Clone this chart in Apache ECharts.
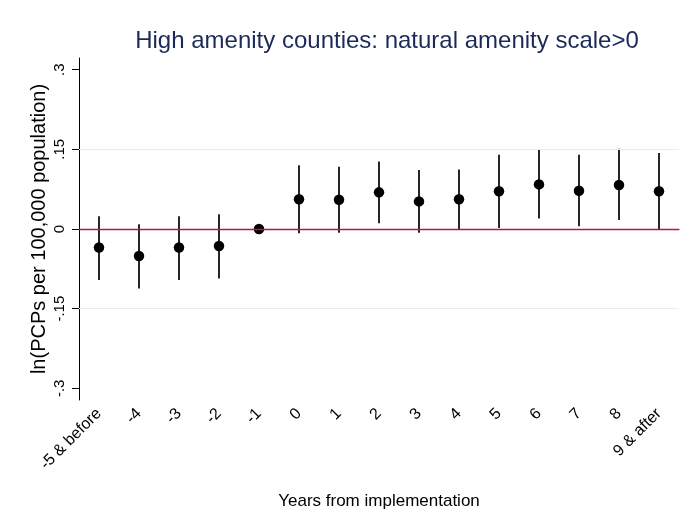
<!DOCTYPE html>
<html>
<head>
<meta charset="utf-8">
<script src="https://cdn.jsdelivr.net/npm/echarts@6/dist/echarts.min.js"></script>
<style>
html, body { margin: 0; padding: 0; background: #fff; }
#chart { width: 680px; height: 515px; }
</style>
</head>
<body>
<div id="chart"></div>
<script>
// event-study coefficients
let years = ['-5 & before', '-4', '-3', '-2', '-1', '0', '1', '2', '3', '4', '5', '6', '7', '8', '9 & after'];
let coef  = [-0.035, -0.051, -0.035, -0.032, 0, 0.056, 0.055, 0.069, 0.052, 0.056, 0.071, 0.084, 0.072, 0.083, 0.071];
let ciLow = [-0.096, -0.112, -0.096, -0.093, 0, -0.008, -0.007, 0.011, -0.007, 0.000, 0.002, 0.020, 0.005, 0.017, 0.000];
let ciHigh = [0.024, 0.009, 0.024, 0.028, 0, 0.120, 0.117, 0.127, 0.111, 0.112, 0.140, 0.149, 0.140, 0.151, 0.143];
let yTicks = [-0.3, -0.15, 0, 0.15, 0.3];

let font = '"Liberation Sans", Arial, sans-serif';

const fmtTick = (v) => {
    // stata style: .15, -.3
    let s = String(Math.round(v * 100) / 100);
    return s.replace('0.', '.');
};

let myChart = echarts.init(document.getElementById('chart'), null, { renderer: 'canvas' });

let ciData = years.map((y, i) => [i, ciLow[i], ciHigh[i]]);
let pointData = years.map((y, i) => [i, coef[i]]);

let option = {
    backgroundColor: '#ffffff',
    animation: false,
    title: {
        text: 'High amenity counties: natural amenity scale>0',
        left: 382,
        top: 24,
        textAlign: 'center',
        textStyle: { fontFamily: font, fontSize: 24, fontWeight: 'normal', color: '#1b2a58' }
    },
    grid: { left: 79, right: 1, top: 58, bottom: 110 },
    xAxis: {
        type: 'category',
        data: years,
        boundaryGap: true,
        name: 'Years from implementation',
        nameLocation: 'middle',
        nameGap: 93,
        nameMoveOverlap: false,
        nameTextStyle: { fontFamily: font, fontSize: 17, color: '#000' },
        axisLine: { lineStyle: { color: '#000', width: 1 } },
        axisTick: { alignWithLabel: true, length: 7, lineStyle: { color: '#000' } },
        axisLabel: { rotate: 45, fontFamily: font, fontSize: 16, color: '#000', margin: 11, interval: 0 },
        splitLine: { show: false }
    },
    yAxis: {
        type: 'value',
        min: -0.322,
        max: 0.322,
        name: 'ln(PCPs per 100,000 population)',
        nameLocation: 'middle',
        nameGap: 30,
        nameRotate: 90,
        nameMoveOverlap: false,
        nameTextStyle: { fontFamily: font, fontSize: 20, color: '#000' },
        axisLine: { show: true, lineStyle: { color: '#000', width: 1 } },
        axisTick: { show: true, length: 7, customValues: yTicks, lineStyle: { color: '#000' } },
        axisLabel: {
            customValues: yTicks,
            rotate: 90,
            fontFamily: font,
            fontSize: 15,
            color: '#000',
            margin: 12,
            formatter: fmtTick
        },
        splitLine: { show: false }
    },
    series: [
        {
            type: 'custom',
            name: 'ci',
            data: ciData,
            renderItem: function (params, api) {
                let lo = api.coord([api.value(0), api.value(1)]);
                let hi = api.coord([api.value(0), api.value(2)]);
                return {
                    type: 'line',
                    shape: { x1: lo[0], y1: lo[1], x2: hi[0], y2: hi[1] },
                    style: { stroke: '#000', lineWidth: 1.7 }
                };
            },
            markLine: {
                silent: true,
                symbol: 'none',
                label: { show: false },
                data: [
                    { yAxis: 0.15, lineStyle: { color: '#e6edf2', width: 1, type: 'solid' } },
                    { yAxis: -0.15, lineStyle: { color: '#e6edf2', width: 1, type: 'solid' } },
                    { yAxis: 0, lineStyle: { color: '#b8163e', width: 1.4, type: 'solid' } }
                ]
            },
            z: 3
        },
        {
            type: 'scatter',
            name: 'coef',
            data: pointData,
            symbol: 'circle',
            symbolSize: 10.5,
            itemStyle: { color: '#000', opacity: 1 },
            z: 4
        }
    ]
};
myChart.setOption(option);
</script>
</body>
</html>
